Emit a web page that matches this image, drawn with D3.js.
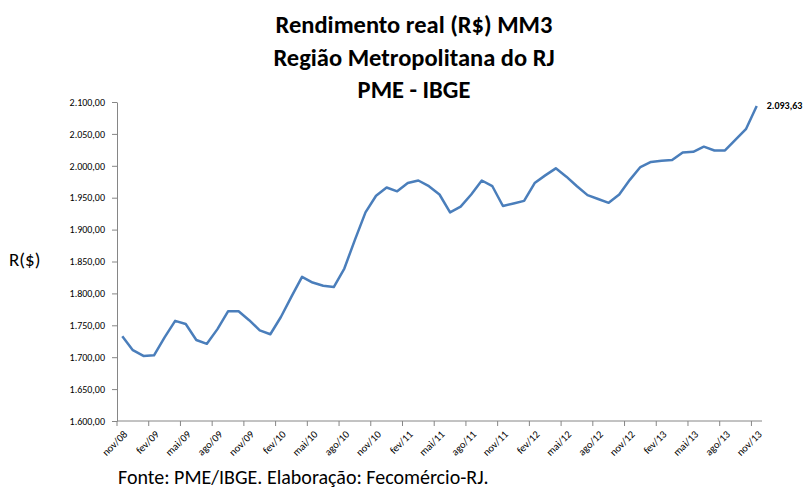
<!DOCTYPE html>
<meta charset="utf-8">
<style>
body { margin: 0; background: #fff; }
svg text { font-family: Calibri, Carlito, Lato, "Open Sans", sans-serif; }
.axis path, .axis line { stroke: #868686; }
</style>
<svg width="807" height="489"></svg>
<script src="https://cdn.jsdelivr.net/npm/d3@7"></script>
<script>
// monthly labels, nov/08 .. nov/13
var months = ["nov/08","dez/08","jan/09","fev/09","mar/09","abr/09","mai/09","jun/09","jul/09","ago/09","set/09","out/09",
  "nov/09","dez/09","jan/10","fev/10","mar/10","abr/10","mai/10","jun/10","jul/10","ago/10","set/10","out/10",
  "nov/10","dez/10","jan/11","fev/11","mar/11","abr/11","mai/11","jun/11","jul/11","ago/11","set/11","out/11",
  "nov/11","dez/11","jan/12","fev/12","mar/12","abr/12","mai/12","jun/12","jul/12","ago/12","set/12","out/12",
  "nov/12","dez/12","jan/13","fev/13","mar/13","abr/13","mai/13","jun/13","jul/13","ago/13","set/13","out/13",
  "nov/13"];

// rendimento real MM3 (R$)
var values = [1733,1711,1702,1703,1731,1757,1752,1727,1721,1744,1772,1772,
  1758,1742,1736,1763,1795,1826,1817,1812,1810,1839,1884,1927,
  1953,1966,1960,1973,1977,1968,1955,1927,1936,1955,1977,1968,
  1937,1941,1945,1973,1985,1996,1983,1968,1954,1948,1942,1955,
  1978,1998,2006,2008,2009,2021,2022,2030,2024,2024,2041,2058,
  2093.63];

var yTicks = [1600,1650,1700,1750,1800,1850,1900,1950,2000,2050,2100];

var svg = d3.select("svg");
var mLeft = 117, mRight = 762, mTop = 102, mBottom = 421;

var x = d3.scaleBand().domain(months).range([mLeft, mRight]).padding(0);
var y = d3.scaleLinear().domain([1600, 2100]).range([mBottom, mTop]);

var fmt = d3.formatLocale({decimal: ",", thousands: ".", grouping: [3], currency: ["R$", ""]}).format(",.2f");

// title
var title = ["Rendimento real (R$) MM3", "Região Metropolitana do RJ", "PME - IBGE"];
svg.append("g").selectAll("text")
  .data(title)
  .enter().append("text")
  .attr("x", 414)
  .attr("y", function(d, i) { return 33 + i * 32.5; })
  .attr("text-anchor", "middle")
  .style("font-size", "24.5px")
  .style("font-weight", "bold")
  .text(function(d) { return d; });

// y axis
var yAxis = svg.append("g").attr("class", "axis")
  .attr("transform", "translate(" + mLeft + ",0)")
  .call(d3.axisLeft(y).tickValues(yTicks).tickSize(5).tickSizeOuter(0).tickFormat(fmt));
yAxis.selectAll("text").style("font-size", "10px").attr("x", -12).attr("fill", "#000");

// x axis, ticks every 3 months at the band edge
var tickMonths = months.filter(function(d, i) { return i % 3 == 0; });
var xAxis = svg.append("g").attr("class", "axis")
  .attr("transform", "translate(0," + mBottom + ")");
xAxis.append("line").attr("x1", mLeft).attr("x2", mRight).attr("y1", 0).attr("y2", 0);
var xt = xAxis.selectAll("g.tick").data(tickMonths).enter().append("g")
  .attr("class", "tick")
  .attr("transform", function(d) { return "translate(" + x(d) + ",0)"; });
xt.append("line").attr("y2", 5);
xt.append("text")
  .attr("text-anchor", "end")
  .attr("transform", "translate(11,14) rotate(-45)")
  .style("font-size", "10.5px")
  .attr("fill", "#000")
  .text(function(d) { return d; });

// y label
svg.append("text").attr("x", 9).attr("y", 266)
  .style("font-size", "19px").text("R($)");

// line
var line = d3.line()
  .x(function(d, i) { return x(months[i]) + x.bandwidth() / 2; })
  .y(function(d) { return y(d); });

svg.append("path")
  .datum(values)
  .attr("fill", "none")
  .attr("stroke", "#4a7ebb")
  .attr("stroke-width", 2.5)
  .attr("stroke-linejoin", "round")
  .attr("d", line);

// last value label
var last = values.length - 1;
svg.append("text")
  .attr("x", x(months[last]) + x.bandwidth() / 2 + 10)
  .attr("y", y(values[last]) + 3)
  .style("font-size", "10px")
  .style("font-weight", "bold")
  .text(fmt(values[last]));

// source
svg.append("text").attr("x", 118).attr("y", 484)
  .style("font-size", "20px")
  .text("Fonte: PME/IBGE. Elaboração: Fecomércio-RJ.");
</script>
